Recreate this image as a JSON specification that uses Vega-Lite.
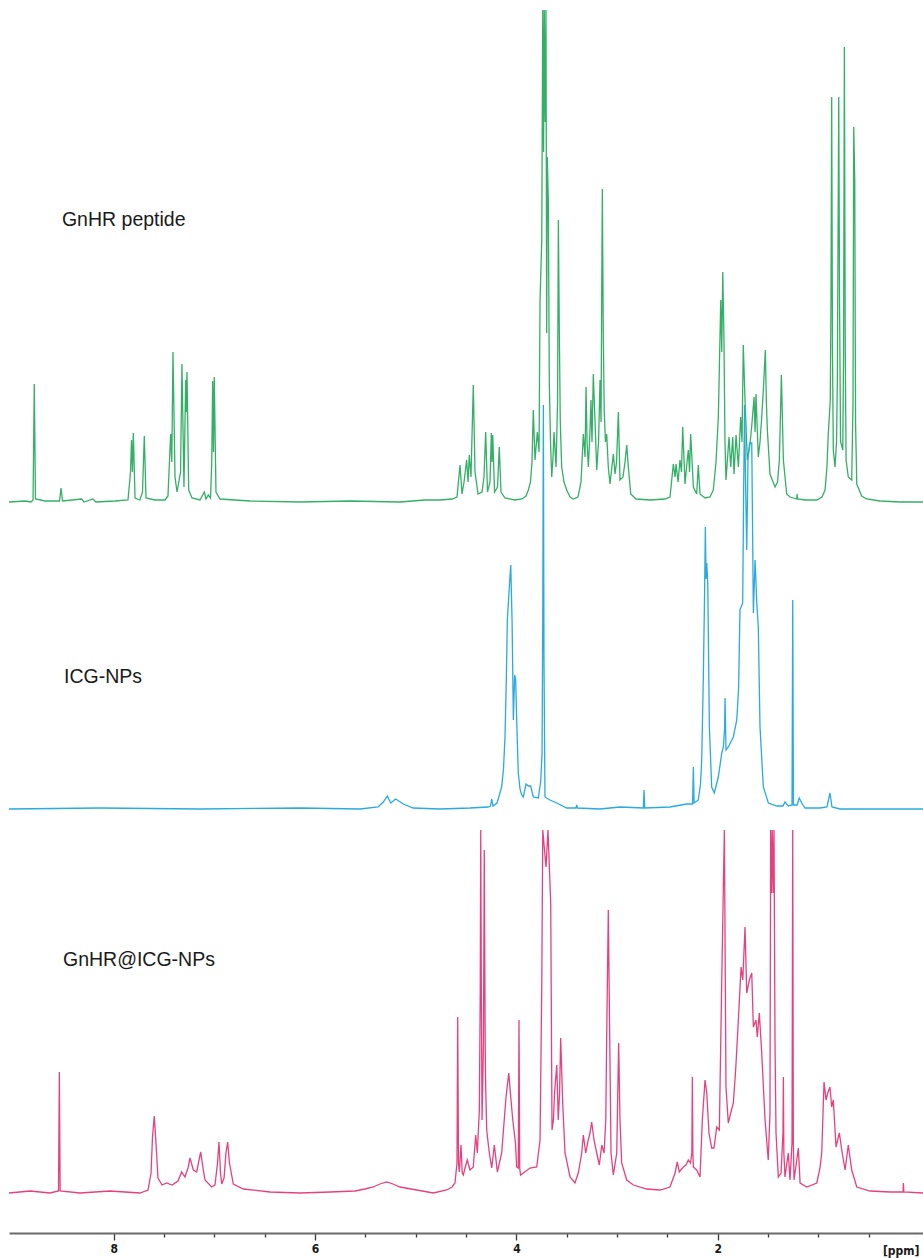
{
  "$schema": "https://vega.github.io/schema/vega-lite/v6.json",
  "width": 914,
  "height": 1233,
  "autosize": {"type": "none"},
  "padding": {"left": 9, "top": 0, "right": 0, "bottom": 25},
  "background": "white",
  "config": {
    "view": {"stroke": null},
    "axisX": {
      "grid": false,
      "domainColor": "#6a6a6a", "domainWidth": 2,
      "tickColor": "#3a3a3a", "tickWidth": 1.3,
      "labelFont": "Liberation Sans Narrow, DejaVu Sans Condensed, Liberation Sans, sans-serif", "labelFontWeight": "bold", "labelFontSize": 12, "labelColor": "#1a1a1a",
      "labelPadding": 3, "labelOverlap": false, "labelFlush": false,
      "titleFont": "Liberation Sans Narrow, DejaVu Sans Condensed, Liberation Sans, sans-serif", "titleFontWeight": "bold", "titleFontSize": 12, "titleColor": "#1a1a1a"
    }
  },
  "resolve": {"scale": {"y": "independent"}},
  "datasets": {
    "green": [
      {"ppm":9.040,"intensity":0},{"ppm":8.881,"intensity":1},{"ppm":8.821,"intensity":0},{"ppm":8.801,"intensity":2},{"ppm":8.789,"intensity":118},{"ppm":8.777,"intensity":3},{"ppm":8.682,"intensity":1},{"ppm":8.538,"intensity":1},{"ppm":8.523,"intensity":14},{"ppm":8.508,"intensity":1},{"ppm":8.318,"intensity":3},{"ppm":8.295,"intensity":0},{"ppm":8.206,"intensity":3},{"ppm":8.176,"intensity":0},{"ppm":7.987,"intensity":1},{"ppm":7.858,"intensity":2},{"ppm":7.833,"intensity":30},{"ppm":7.823,"intensity":62},{"ppm":7.814,"intensity":30},{"ppm":7.805,"intensity":69},{"ppm":7.788,"intensity":4},{"ppm":7.739,"intensity":2},{"ppm":7.714,"intensity":10},{"ppm":7.696,"intensity":66},{"ppm":7.679,"intensity":4},{"ppm":7.590,"intensity":2},{"ppm":7.490,"intensity":2},{"ppm":7.461,"intensity":6},{"ppm":7.434,"intensity":68},{"ppm":7.423,"intensity":40},{"ppm":7.411,"intensity":150},{"ppm":7.391,"intensity":25},{"ppm":7.371,"intensity":10},{"ppm":7.336,"intensity":30},{"ppm":7.322,"intensity":138},{"ppm":7.302,"intensity":15},{"ppm":7.285,"intensity":122},{"ppm":7.279,"intensity":90},{"ppm":7.272,"intensity":130},{"ppm":7.255,"intensity":12},{"ppm":7.222,"intensity":4},{"ppm":7.143,"intensity":2},{"ppm":7.100,"intensity":10},{"ppm":7.083,"intensity":3},{"ppm":7.060,"intensity":7},{"ppm":7.038,"intensity":4},{"ppm":7.026,"intensity":40},{"ppm":7.017,"intensity":121},{"ppm":7.009,"intensity":50},{"ppm":7.001,"intensity":125},{"ppm":6.984,"intensity":10},{"ppm":6.944,"intensity":3},{"ppm":6.646,"intensity":1},{"ppm":6.149,"intensity":0},{"ppm":5.653,"intensity":1},{"ppm":5.156,"intensity":0},{"ppm":4.908,"intensity":2},{"ppm":4.759,"intensity":2},{"ppm":4.639,"intensity":3},{"ppm":4.590,"intensity":5},{"ppm":4.560,"intensity":37},{"ppm":4.540,"intensity":8},{"ppm":4.520,"intensity":20},{"ppm":4.494,"intensity":42},{"ppm":4.480,"intensity":20},{"ppm":4.468,"intensity":47},{"ppm":4.451,"intensity":25},{"ppm":4.428,"intensity":117},{"ppm":4.411,"intensity":30},{"ppm":4.381,"intensity":8},{"ppm":4.341,"intensity":10},{"ppm":4.322,"intensity":25},{"ppm":4.305,"intensity":70},{"ppm":4.287,"intensity":10},{"ppm":4.262,"intensity":20},{"ppm":4.249,"intensity":69},{"ppm":4.242,"intensity":40},{"ppm":4.235,"intensity":67},{"ppm":4.217,"intensity":10},{"ppm":4.187,"intensity":15},{"ppm":4.170,"intensity":55},{"ppm":4.153,"intensity":10},{"ppm":4.113,"intensity":4},{"ppm":4.014,"intensity":2},{"ppm":3.944,"intensity":3},{"ppm":3.904,"intensity":6},{"ppm":3.881,"intensity":12},{"ppm":3.860,"intensity":20},{"ppm":3.845,"intensity":40},{"ppm":3.832,"intensity":92},{"ppm":3.815,"intensity":42},{"ppm":3.792,"intensity":70},{"ppm":3.775,"intensity":50},{"ppm":3.765,"intensity":202},{"ppm":3.748,"intensity":262},{"ppm":3.738,"intensity":492},{"ppm":3.730,"intensity":350},{"ppm":3.723,"intensity":492},{"ppm":3.714,"intensity":380},{"ppm":3.706,"intensity":492},{"ppm":3.699,"intensity":169},{"ppm":3.693,"intensity":345},{"ppm":3.683,"intensity":302},{"ppm":3.673,"intensity":120},{"ppm":3.661,"intensity":60},{"ppm":3.649,"intensity":25},{"ppm":3.636,"intensity":45},{"ppm":3.626,"intensity":70},{"ppm":3.606,"intensity":35},{"ppm":3.591,"intensity":100},{"ppm":3.583,"intensity":282},{"ppm":3.574,"intensity":175},{"ppm":3.564,"intensity":80},{"ppm":3.550,"intensity":35},{"ppm":3.527,"intensity":20},{"ppm":3.500,"intensity":12},{"ppm":3.467,"intensity":5},{"ppm":3.434,"intensity":3},{"ppm":3.388,"intensity":5},{"ppm":3.358,"intensity":20},{"ppm":3.335,"intensity":68},{"ppm":3.318,"intensity":45},{"ppm":3.308,"intensity":115},{"ppm":3.298,"intensity":60},{"ppm":3.285,"intensity":35},{"ppm":3.269,"intensity":70},{"ppm":3.259,"intensity":102},{"ppm":3.249,"intensity":60},{"ppm":3.236,"intensity":128},{"ppm":3.218,"intensity":78},{"ppm":3.202,"intensity":32},{"ppm":3.184,"intensity":60},{"ppm":3.169,"intensity":122},{"ppm":3.159,"intensity":80},{"ppm":3.152,"intensity":215},{"ppm":3.146,"intensity":313},{"ppm":3.137,"intensity":168},{"ppm":3.127,"intensity":89},{"ppm":3.115,"intensity":60},{"ppm":3.103,"intensity":68},{"ppm":3.087,"intensity":35},{"ppm":3.070,"intensity":18},{"ppm":3.037,"intensity":48},{"ppm":3.020,"intensity":28},{"ppm":3.005,"intensity":40},{"ppm":2.987,"intensity":90},{"ppm":2.971,"intensity":22},{"ppm":2.941,"intensity":25},{"ppm":2.921,"intensity":40},{"ppm":2.904,"intensity":57},{"ppm":2.888,"intensity":35},{"ppm":2.864,"intensity":8},{"ppm":2.812,"intensity":3},{"ppm":2.673,"intensity":2},{"ppm":2.524,"intensity":3},{"ppm":2.474,"intensity":5},{"ppm":2.441,"intensity":38},{"ppm":2.424,"intensity":25},{"ppm":2.414,"intensity":38},{"ppm":2.394,"intensity":20},{"ppm":2.375,"intensity":42},{"ppm":2.360,"intensity":30},{"ppm":2.348,"intensity":75},{"ppm":2.325,"intensity":18},{"ppm":2.305,"intensity":40},{"ppm":2.292,"intensity":52},{"ppm":2.280,"intensity":30},{"ppm":2.269,"intensity":68},{"ppm":2.242,"intensity":15},{"ppm":2.209,"intensity":8},{"ppm":2.193,"intensity":37},{"ppm":2.176,"intensity":8},{"ppm":2.126,"intensity":4},{"ppm":2.077,"intensity":5},{"ppm":2.044,"intensity":12},{"ppm":2.017,"intensity":40},{"ppm":1.994,"intensity":85},{"ppm":1.970,"intensity":202},{"ppm":1.960,"intensity":150},{"ppm":1.950,"intensity":230},{"ppm":1.938,"intensity":162},{"ppm":1.928,"intensity":60},{"ppm":1.918,"intensity":22},{"ppm":1.888,"intensity":65},{"ppm":1.871,"intensity":35},{"ppm":1.851,"intensity":65},{"ppm":1.838,"intensity":28},{"ppm":1.818,"intensity":67},{"ppm":1.795,"intensity":35},{"ppm":1.772,"intensity":85},{"ppm":1.759,"intensity":60},{"ppm":1.746,"intensity":157},{"ppm":1.729,"intensity":102},{"ppm":1.706,"intensity":42},{"ppm":1.679,"intensity":58},{"ppm":1.659,"intensity":80},{"ppm":1.639,"intensity":105},{"ppm":1.629,"intensity":70},{"ppm":1.620,"intensity":108},{"ppm":1.597,"intensity":45},{"ppm":1.580,"intensity":60},{"ppm":1.563,"intensity":85},{"ppm":1.547,"intensity":112},{"ppm":1.527,"intensity":152},{"ppm":1.517,"intensity":100},{"ppm":1.507,"intensity":72},{"ppm":1.481,"intensity":28},{"ppm":1.431,"intensity":15},{"ppm":1.406,"intensity":20},{"ppm":1.388,"intensity":42},{"ppm":1.376,"intensity":90},{"ppm":1.368,"intensity":127},{"ppm":1.359,"intensity":90},{"ppm":1.348,"intensity":42},{"ppm":1.315,"intensity":8},{"ppm":1.282,"intensity":5},{"ppm":1.215,"intensity":3},{"ppm":1.212,"intensity":8},{"ppm":1.207,"intensity":3},{"ppm":1.133,"intensity":2},{"ppm":1.016,"intensity":2},{"ppm":0.964,"intensity":5},{"ppm":0.934,"intensity":12},{"ppm":0.915,"intensity":35},{"ppm":0.902,"intensity":68},{"ppm":0.882,"intensity":102},{"ppm":0.875,"intensity":200},{"ppm":0.868,"intensity":405},{"ppm":0.860,"intensity":150},{"ppm":0.852,"intensity":52},{"ppm":0.835,"intensity":35},{"ppm":0.820,"intensity":60},{"ppm":0.812,"intensity":118},{"ppm":0.798,"intensity":405},{"ppm":0.790,"intensity":200},{"ppm":0.780,"intensity":60},{"ppm":0.772,"intensity":58},{"ppm":0.758,"intensity":52},{"ppm":0.750,"intensity":150},{"ppm":0.742,"intensity":455},{"ppm":0.733,"intensity":150},{"ppm":0.725,"intensity":42},{"ppm":0.703,"intensity":25},{"ppm":0.669,"intensity":22},{"ppm":0.656,"intensity":100},{"ppm":0.649,"intensity":375},{"ppm":0.639,"intensity":322},{"ppm":0.631,"intensity":80},{"ppm":0.619,"intensity":18},{"ppm":0.570,"intensity":6},{"ppm":0.520,"intensity":3},{"ppm":0.388,"intensity":1},{"ppm":0.189,"intensity":0},{"ppm":-0.039,"intensity":0}
    ],
    "blue": [
      {"ppm":9.040,"intensity":0},{"ppm":8.136,"intensity":1},{"ppm":7.143,"intensity":0},{"ppm":6.149,"intensity":1},{"ppm":5.553,"intensity":0},{"ppm":5.374,"intensity":2},{"ppm":5.322,"intensity":7},{"ppm":5.282,"intensity":13},{"ppm":5.248,"intensity":6},{"ppm":5.199,"intensity":10},{"ppm":5.123,"intensity":5},{"ppm":5.024,"intensity":1},{"ppm":4.759,"intensity":0},{"ppm":4.461,"intensity":1},{"ppm":4.282,"intensity":2},{"ppm":4.257,"intensity":3},{"ppm":4.245,"intensity":10},{"ppm":4.232,"intensity":3},{"ppm":4.192,"intensity":6},{"ppm":4.146,"intensity":22},{"ppm":4.128,"intensity":40},{"ppm":4.113,"intensity":72},{"ppm":4.100,"intensity":130},{"ppm":4.090,"intensity":189},{"ppm":4.070,"intensity":222},{"ppm":4.056,"intensity":244},{"ppm":4.043,"intensity":189},{"ppm":4.030,"intensity":89},{"ppm":4.017,"intensity":134},{"ppm":4.007,"intensity":129},{"ppm":3.997,"intensity":89},{"ppm":3.981,"intensity":36},{"ppm":3.964,"intensity":20},{"ppm":3.947,"intensity":14},{"ppm":3.931,"intensity":12},{"ppm":3.904,"intensity":25},{"ppm":3.881,"intensity":23},{"ppm":3.858,"intensity":23},{"ppm":3.832,"intensity":12},{"ppm":3.782,"intensity":11},{"ppm":3.758,"intensity":28},{"ppm":3.745,"intensity":56},{"ppm":3.738,"intensity":189},{"ppm":3.732,"intensity":404},{"ppm":3.726,"intensity":150},{"ppm":3.716,"intensity":12},{"ppm":3.666,"intensity":9},{"ppm":3.599,"intensity":6},{"ppm":3.500,"intensity":1},{"ppm":3.408,"intensity":1},{"ppm":3.401,"intensity":4},{"ppm":3.393,"intensity":1},{"ppm":3.169,"intensity":0},{"ppm":2.971,"intensity":2},{"ppm":2.739,"intensity":1},{"ppm":2.732,"intensity":19},{"ppm":2.725,"intensity":1},{"ppm":2.474,"intensity":2},{"ppm":2.308,"intensity":5},{"ppm":2.250,"intensity":5},{"ppm":2.242,"intensity":42},{"ppm":2.235,"intensity":6},{"ppm":2.193,"intensity":9},{"ppm":2.171,"intensity":25},{"ppm":2.159,"intensity":49},{"ppm":2.143,"intensity":132},{"ppm":2.130,"intensity":220},{"ppm":2.123,"intensity":282},{"ppm":2.116,"intensity":230},{"ppm":2.109,"intensity":246},{"ppm":2.099,"intensity":226},{"ppm":2.083,"intensity":82},{"ppm":2.060,"intensity":22},{"ppm":2.034,"intensity":16},{"ppm":1.994,"intensity":32},{"ppm":1.960,"intensity":56},{"ppm":1.944,"intensity":62},{"ppm":1.932,"intensity":80},{"ppm":1.927,"intensity":111},{"ppm":1.918,"intensity":59},{"ppm":1.895,"intensity":62},{"ppm":1.845,"intensity":72},{"ppm":1.811,"intensity":89},{"ppm":1.793,"intensity":120},{"ppm":1.779,"intensity":199},{"ppm":1.752,"intensity":206},{"ppm":1.744,"intensity":300},{"ppm":1.734,"intensity":404},{"ppm":1.724,"intensity":330},{"ppm":1.712,"intensity":259},{"ppm":1.699,"intensity":350},{"ppm":1.684,"intensity":366},{"ppm":1.662,"intensity":366},{"ppm":1.646,"intensity":196},{"ppm":1.629,"intensity":249},{"ppm":1.612,"intensity":206},{"ppm":1.597,"intensity":182},{"ppm":1.580,"intensity":82},{"ppm":1.547,"intensity":22},{"ppm":1.497,"intensity":6},{"ppm":1.414,"intensity":3},{"ppm":1.352,"intensity":3},{"ppm":1.332,"intensity":7},{"ppm":1.299,"intensity":3},{"ppm":1.262,"intensity":4},{"ppm":1.255,"intensity":209},{"ppm":1.248,"intensity":4},{"ppm":1.212,"intensity":4},{"ppm":1.190,"intensity":11},{"ppm":1.166,"intensity":6},{"ppm":1.133,"intensity":1},{"ppm":0.984,"intensity":1},{"ppm":0.915,"intensity":2},{"ppm":0.885,"intensity":16},{"ppm":0.865,"intensity":2},{"ppm":0.785,"intensity":0},{"ppm":0.388,"intensity":0},{"ppm":-0.039,"intensity":0}
    ],
    "pink": [
      {"ppm":9.040,"intensity":0},{"ppm":8.831,"intensity":2},{"ppm":8.633,"intensity":0},{"ppm":8.548,"intensity":2},{"ppm":8.540,"intensity":121},{"ppm":8.532,"intensity":2},{"ppm":8.335,"intensity":0},{"ppm":8.037,"intensity":2},{"ppm":7.739,"intensity":0},{"ppm":7.659,"intensity":3},{"ppm":7.629,"intensity":20},{"ppm":7.615,"intensity":55},{"ppm":7.597,"intensity":77},{"ppm":7.580,"intensity":50},{"ppm":7.560,"intensity":15},{"ppm":7.520,"intensity":8},{"ppm":7.474,"intensity":10},{"ppm":7.421,"intensity":8},{"ppm":7.361,"intensity":12},{"ppm":7.325,"intensity":21},{"ppm":7.292,"intensity":16},{"ppm":7.262,"intensity":25},{"ppm":7.242,"intensity":35},{"ppm":7.209,"intensity":23},{"ppm":7.176,"intensity":21},{"ppm":7.158,"intensity":30},{"ppm":7.136,"intensity":41},{"ppm":7.113,"intensity":25},{"ppm":7.093,"intensity":13},{"ppm":7.027,"intensity":6},{"ppm":6.994,"intensity":8},{"ppm":6.969,"intensity":30},{"ppm":6.954,"intensity":51},{"ppm":6.939,"intensity":20},{"ppm":6.927,"intensity":9},{"ppm":6.904,"intensity":15},{"ppm":6.885,"intensity":40},{"ppm":6.868,"intensity":51},{"ppm":6.850,"intensity":30},{"ppm":6.812,"intensity":9},{"ppm":6.713,"intensity":4},{"ppm":6.447,"intensity":1},{"ppm":6.149,"intensity":0},{"ppm":5.851,"intensity":1},{"ppm":5.603,"intensity":2},{"ppm":5.504,"intensity":4},{"ppm":5.421,"intensity":6},{"ppm":5.355,"intensity":9},{"ppm":5.288,"intensity":11},{"ppm":5.226,"intensity":9},{"ppm":5.156,"intensity":6},{"ppm":4.990,"intensity":3},{"ppm":4.825,"intensity":0},{"ppm":4.692,"intensity":3},{"ppm":4.639,"intensity":6},{"ppm":4.610,"intensity":10},{"ppm":4.590,"intensity":30},{"ppm":4.583,"intensity":176},{"ppm":4.575,"intensity":30},{"ppm":4.567,"intensity":21},{"ppm":4.550,"intensity":48},{"ppm":4.538,"intensity":20},{"ppm":4.527,"intensity":18},{"ppm":4.510,"intensity":25},{"ppm":4.488,"intensity":33},{"ppm":4.461,"intensity":23},{"ppm":4.428,"intensity":26},{"ppm":4.404,"intensity":58},{"ppm":4.388,"intensity":40},{"ppm":4.368,"intensity":83},{"ppm":4.359,"intensity":200},{"ppm":4.354,"intensity":363},{"ppm":4.348,"intensity":200},{"ppm":4.341,"intensity":73},{"ppm":4.327,"intensity":150},{"ppm":4.319,"intensity":343},{"ppm":4.310,"intensity":150},{"ppm":4.305,"intensity":106},{"ppm":4.295,"intensity":63},{"ppm":4.269,"intensity":40},{"ppm":4.245,"intensity":25},{"ppm":4.219,"intensity":48},{"ppm":4.189,"intensity":21},{"ppm":4.146,"intensity":40},{"ppm":4.123,"intensity":70},{"ppm":4.103,"intensity":96},{"ppm":4.076,"intensity":120},{"ppm":4.056,"intensity":96},{"ppm":4.036,"intensity":73},{"ppm":4.024,"intensity":63},{"ppm":4.009,"intensity":50},{"ppm":3.997,"intensity":26},{"ppm":3.981,"intensity":25},{"ppm":3.974,"intensity":173},{"ppm":3.967,"intensity":25},{"ppm":3.959,"intensity":18},{"ppm":3.931,"intensity":20},{"ppm":3.865,"intensity":25},{"ppm":3.798,"intensity":26},{"ppm":3.765,"intensity":53},{"ppm":3.748,"intensity":206},{"ppm":3.738,"intensity":363},{"ppm":3.706,"intensity":326},{"ppm":3.686,"intensity":363},{"ppm":3.659,"intensity":290},{"ppm":3.651,"intensity":150},{"ppm":3.646,"intensity":63},{"ppm":3.632,"intensity":73},{"ppm":3.621,"intensity":100},{"ppm":3.599,"intensity":128},{"ppm":3.584,"intensity":73},{"ppm":3.571,"intensity":100},{"ppm":3.560,"intensity":155},{"ppm":3.540,"intensity":90},{"ppm":3.517,"intensity":40},{"ppm":3.467,"intensity":16},{"ppm":3.418,"intensity":10},{"ppm":3.385,"intensity":20},{"ppm":3.351,"intensity":40},{"ppm":3.335,"intensity":58},{"ppm":3.311,"intensity":40},{"ppm":3.286,"intensity":53},{"ppm":3.269,"intensity":60},{"ppm":3.252,"intensity":71},{"ppm":3.229,"intensity":53},{"ppm":3.202,"intensity":40},{"ppm":3.176,"intensity":28},{"ppm":3.152,"intensity":48},{"ppm":3.129,"intensity":40},{"ppm":3.112,"intensity":73},{"ppm":3.103,"intensity":156},{"ppm":3.087,"intensity":283},{"ppm":3.073,"intensity":156},{"ppm":3.060,"intensity":40},{"ppm":3.037,"intensity":18},{"ppm":3.003,"intensity":40},{"ppm":2.993,"intensity":100},{"ppm":2.984,"intensity":150},{"ppm":2.971,"intensity":73},{"ppm":2.954,"intensity":30},{"ppm":2.904,"intensity":13},{"ppm":2.838,"intensity":8},{"ppm":2.705,"intensity":4},{"ppm":2.573,"intensity":3},{"ppm":2.474,"intensity":6},{"ppm":2.424,"intensity":20},{"ppm":2.402,"intensity":31},{"ppm":2.382,"intensity":21},{"ppm":2.342,"intensity":26},{"ppm":2.315,"intensity":28},{"ppm":2.292,"intensity":33},{"ppm":2.270,"intensity":30},{"ppm":2.257,"intensity":40},{"ppm":2.252,"intensity":116},{"ppm":2.247,"intensity":40},{"ppm":2.242,"intensity":26},{"ppm":2.209,"intensity":23},{"ppm":2.176,"intensity":16},{"ppm":2.153,"intensity":73},{"ppm":2.126,"intensity":113},{"ppm":2.109,"intensity":100},{"ppm":2.087,"intensity":60},{"ppm":2.060,"intensity":45},{"ppm":2.037,"intensity":45},{"ppm":2.010,"intensity":66},{"ppm":1.984,"intensity":63},{"ppm":1.960,"intensity":213},{"ppm":1.944,"intensity":306},{"ppm":1.934,"intensity":363},{"ppm":1.927,"intensity":250},{"ppm":1.918,"intensity":106},{"ppm":1.895,"intensity":70},{"ppm":1.871,"intensity":80},{"ppm":1.845,"intensity":90},{"ppm":1.822,"intensity":123},{"ppm":1.795,"intensity":173},{"ppm":1.768,"intensity":226},{"ppm":1.751,"intensity":213},{"ppm":1.729,"intensity":266},{"ppm":1.712,"intensity":200},{"ppm":1.686,"intensity":213},{"ppm":1.662,"intensity":220},{"ppm":1.646,"intensity":166},{"ppm":1.620,"intensity":173},{"ppm":1.607,"intensity":156},{"ppm":1.587,"intensity":180},{"ppm":1.563,"intensity":140},{"ppm":1.530,"intensity":73},{"ppm":1.498,"intensity":33},{"ppm":1.481,"intensity":80},{"ppm":1.474,"intensity":363},{"ppm":1.466,"intensity":300},{"ppm":1.458,"intensity":363},{"ppm":1.449,"intensity":300},{"ppm":1.441,"intensity":363},{"ppm":1.431,"intensity":150},{"ppm":1.421,"intensity":60},{"ppm":1.398,"intensity":16},{"ppm":1.371,"intensity":20},{"ppm":1.352,"intensity":60},{"ppm":1.348,"intensity":116},{"ppm":1.343,"intensity":40},{"ppm":1.332,"intensity":16},{"ppm":1.299,"intensity":40},{"ppm":1.282,"intensity":13},{"ppm":1.262,"intensity":50},{"ppm":1.255,"intensity":363},{"ppm":1.249,"intensity":50},{"ppm":1.242,"intensity":13},{"ppm":1.199,"intensity":45},{"ppm":1.182,"intensity":10},{"ppm":1.116,"intensity":6},{"ppm":1.016,"intensity":10},{"ppm":0.984,"intensity":25},{"ppm":0.967,"intensity":40},{"ppm":0.944,"intensity":111},{"ppm":0.924,"intensity":93},{"ppm":0.907,"intensity":100},{"ppm":0.885,"intensity":106},{"ppm":0.868,"intensity":86},{"ppm":0.852,"intensity":93},{"ppm":0.825,"intensity":46},{"ppm":0.792,"intensity":60},{"ppm":0.768,"intensity":43},{"ppm":0.735,"intensity":23},{"ppm":0.703,"intensity":48},{"ppm":0.669,"intensity":23},{"ppm":0.619,"intensity":6},{"ppm":0.487,"intensity":2},{"ppm":0.288,"intensity":1},{"ppm":0.159,"intensity":1},{"ppm":0.156,"intensity":10},{"ppm":0.151,"intensity":1},{"ppm":-0.039,"intensity":0}
    ]
  },
  "layer": [
    {
      "data": {"name": "green"},
      "mark": {"type": "line", "color": "#33b066", "strokeWidth": 1.3},
      "encoding": {
        "x": {"field": "ppm", "type": "quantitative", "title": "[ppm]",
          "scale": {"domain": [-0.039, 9.04], "reverse": true, "nice": false, "zero": false},
          "axis": {"values": [0.5, 1, 1.5, 2, 2.5, 3, 3.5, 4, 4.5, 5, 5.5, 6, 6.5, 7, 7.5, 8], "labelExpr": "datum.value % 2 === 0 ? format(datum.value, 'd') : ''", "tickSize": {"condition": {"test": "datum.value % 2 === 0", "value": 7}, "value": 4}, "titleAnchor": "end", "titleAlign": "right", "titleBaseline": "alphabetic", "titleX": 910, "titleY": 21}},
        "y": {"field": "intensity", "type": "quantitative", "scale": {"domain": [-731, 502], "nice": false, "zero": false}, "axis": null}
      }
    },
    {
      "data": {"values": [{"label": "GnHR peptide"}]},
      "mark": {"type": "text", "font": "Liberation Sans", "fontSize": 19.5, "color": "#1a1a1a", "align": "left", "baseline": "alphabetic"},
      "encoding": {
        "x": {"datum": 8.514, "type": "quantitative", "title": "[ppm]",
          "scale": {"domain": [-0.039, 9.04], "reverse": true, "nice": false, "zero": false},
          "axis": {"values": [0.5, 1, 1.5, 2, 2.5, 3, 3.5, 4, 4.5, 5, 5.5, 6, 6.5, 7, 7.5, 8], "labelExpr": "datum.value % 2 === 0 ? format(datum.value, 'd') : ''", "tickSize": {"condition": {"test": "datum.value % 2 === 0", "value": 7}, "value": 4}, "titleAnchor": "end", "titleAlign": "right", "titleBaseline": "alphabetic", "titleX": 910, "titleY": 21}},
        "y": {"datum": 276, "type": "quantitative", "scale": {"domain": [-731, 502], "nice": false, "zero": false}, "axis": null},
        "text": {"field": "label"}
      }
    },
    {
      "data": {"name": "blue"},
      "mark": {"type": "line", "color": "#29aae1", "strokeWidth": 1.3},
      "encoding": {
        "x": {"field": "ppm", "type": "quantitative", "title": "[ppm]",
          "scale": {"domain": [-0.039, 9.04], "reverse": true, "nice": false, "zero": false},
          "axis": {"values": [0.5, 1, 1.5, 2, 2.5, 3, 3.5, 4, 4.5, 5, 5.5, 6, 6.5, 7, 7.5, 8], "labelExpr": "datum.value % 2 === 0 ? format(datum.value, 'd') : ''", "tickSize": {"condition": {"test": "datum.value % 2 === 0", "value": 7}, "value": 4}, "titleAnchor": "end", "titleAlign": "right", "titleBaseline": "alphabetic", "titleX": 910, "titleY": 21}},
        "y": {"field": "intensity", "type": "quantitative", "scale": {"domain": [-424, 809], "nice": false, "zero": false}, "axis": null}
      }
    },
    {
      "data": {"values": [{"label": "ICG-NPs"}]},
      "mark": {"type": "text", "font": "Liberation Sans", "fontSize": 19.5, "color": "#1a1a1a", "align": "left", "baseline": "alphabetic"},
      "encoding": {
        "x": {"datum": 8.494, "type": "quantitative", "title": "[ppm]",
          "scale": {"domain": [-0.039, 9.04], "reverse": true, "nice": false, "zero": false},
          "axis": {"values": [0.5, 1, 1.5, 2, 2.5, 3, 3.5, 4, 4.5, 5, 5.5, 6, 6.5, 7, 7.5, 8], "labelExpr": "datum.value % 2 === 0 ? format(datum.value, 'd') : ''", "tickSize": {"condition": {"test": "datum.value % 2 === 0", "value": 7}, "value": 4}, "titleAnchor": "end", "titleAlign": "right", "titleBaseline": "alphabetic", "titleX": 910, "titleY": 21}},
        "y": {"datum": 126, "type": "quantitative", "scale": {"domain": [-424, 809], "nice": false, "zero": false}, "axis": null},
        "text": {"field": "label"}
      }
    },
    {
      "data": {"name": "pink"},
      "mark": {"type": "line", "color": "#e8407e", "strokeWidth": 1.3},
      "encoding": {
        "x": {"field": "ppm", "type": "quantitative", "title": "[ppm]",
          "scale": {"domain": [-0.039, 9.04], "reverse": true, "nice": false, "zero": false},
          "axis": {"values": [0.5, 1, 1.5, 2, 2.5, 3, 3.5, 4, 4.5, 5, 5.5, 6, 6.5, 7, 7.5, 8], "labelExpr": "datum.value % 2 === 0 ? format(datum.value, 'd') : ''", "tickSize": {"condition": {"test": "datum.value % 2 === 0", "value": 7}, "value": 4}, "titleAnchor": "end", "titleAlign": "right", "titleBaseline": "alphabetic", "titleX": 910, "titleY": 21}},
        "y": {"field": "intensity", "type": "quantitative", "scale": {"domain": [-40, 1193], "nice": false, "zero": false}, "axis": null}
      }
    },
    {
      "data": {"values": [{"label": "GnHR@ICG-NPs"}]},
      "mark": {"type": "text", "font": "Liberation Sans", "fontSize": 19.5, "color": "#1a1a1a", "align": "left", "baseline": "alphabetic"},
      "encoding": {
        "x": {"datum": 8.504, "type": "quantitative", "title": "[ppm]",
          "scale": {"domain": [-0.039, 9.04], "reverse": true, "nice": false, "zero": false},
          "axis": {"values": [0.5, 1, 1.5, 2, 2.5, 3, 3.5, 4, 4.5, 5, 5.5, 6, 6.5, 7, 7.5, 8], "labelExpr": "datum.value % 2 === 0 ? format(datum.value, 'd') : ''", "tickSize": {"condition": {"test": "datum.value % 2 === 0", "value": 7}, "value": 4}, "titleAnchor": "end", "titleAlign": "right", "titleBaseline": "alphabetic", "titleX": 910, "titleY": 21}},
        "y": {"datum": 227, "type": "quantitative", "scale": {"domain": [-40, 1193], "nice": false, "zero": false}, "axis": null},
        "text": {"field": "label"}
      }
    }
  ]
}
